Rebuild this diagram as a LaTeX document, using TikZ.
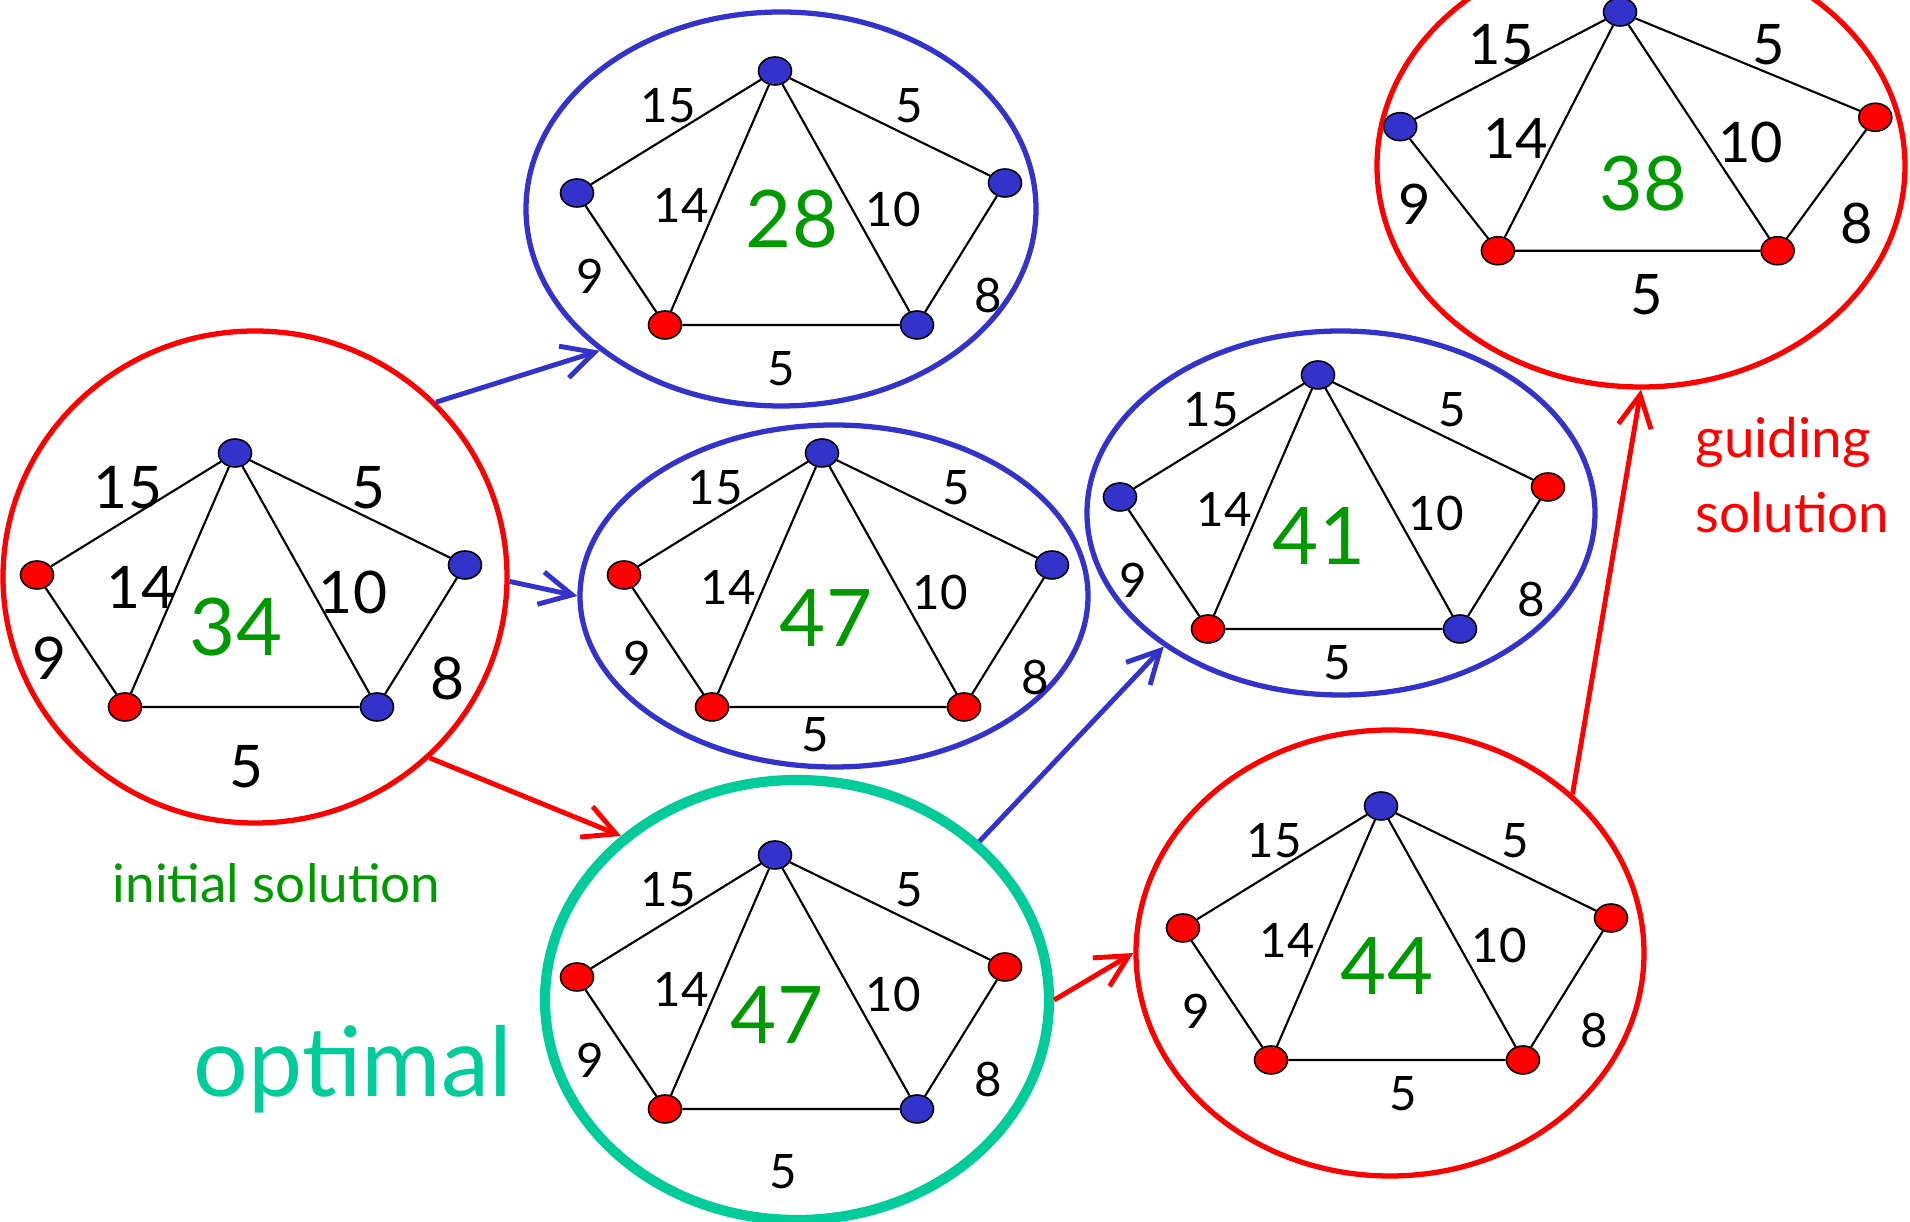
\documentclass[tikz,border=0pt]{standalone}
\usepackage{fontspec}
\setmainfont{Lato}
\usetikzlibrary{shapes.geometric,arrows.meta}
\definecolor{vred}{RGB}{255,0,0}
\definecolor{vblue}{RGB}{51,51,204}
\definecolor{vteal}{RGB}{0,204,153}
\definecolor{vgreen}{RGB}{0,153,0}
\newcommand{\solgraph}[9]{%
  \begin{scope}[#2]
    \node[vtx, fill=vblue] (#1t) at (0,0) {};
    \node[vtx, fill=#3] (#1l) at (-1.98,-1.22) {};
    \node[vtx, fill=#4] (#1r) at (2.30,-1.12) {};
    \node[vtx, fill=#5] (#1bl) at (-1.10,-2.54) {};
    \node[vtx, fill=#6] (#1br) at (1.42,-2.54) {};
    \draw[edge] (#1t) -- (#1l) (#1t) -- (#1r) (#1t) -- (#1bl) (#1t) -- (#1br)
      (#1l) -- (#1bl) (#1r) -- (#1br) (#1bl) -- (#1br);
    \node[lbl] (#1wa) at (-1.07,-0.35) {15};
    \node[lbl] (#1wb) at (1.34,-0.35) {5};
    \node[lbl] (#1wc) at (-0.94,-1.34) {14};
    \node[lbl] (#1wd) at (1.18,-1.39) {10};
    \node[lbl] (#1we) at (-1.85,-2.05) {9};
    \node[lbl] (#1wf) at (2.13,-2.25) {8};
    \node[lbl] (#1wg) at (#9) {5};
    \node[val] (#1v) at (#8) {#7};
  \end{scope}}

\begin{document}
\begin{tikzpicture}[>={Straight Barb[length=3.2mm,width=3.3mm]},
    vtx/.style={ellipse, draw, line width=0.45pt, minimum width=0.33cm, minimum height=0.28cm, inner sep=0pt},
    edge/.style={line width=0.6pt},
    lbl/.style={font=\fontsize{13.5}{13.5}\selectfont, inner sep=0pt},
    val/.style={text=vgreen, font=\fontsize{22.6}{22.6}\selectfont, inner sep=0pt},
    sol/.style={ellipse, line width=1.5pt, inner sep=0pt},
    redarrow/.style={->, vred, line width=1.4pt},
    bluearrow/.style={->, vblue, line width=1.4pt}]
  \useasboundingbox (0,0) rectangle (19.1,-12.22);

  \node[sol, draw=vred, minimum width=5.04cm, minimum height=4.92cm] (A) at (2.55,-5.77) {};
  \node[sol, draw=vblue, minimum width=5.10cm, minimum height=3.94cm] (B) at (7.81,-2.09) {};
  \node[sol, draw=vblue, minimum width=5.08cm, minimum height=3.42cm] (C) at (8.34,-5.96) {};
  \node[sol, draw=vteal, line width=2.9pt, minimum width=5.04cm, minimum height=4.40cm] (D) at (7.97,-10.00) {};
  \node[sol, draw=vblue, minimum width=5.08cm, minimum height=3.64cm] (E) at (13.41,-5.13) {};
  \node[sol, draw=vred, minimum width=5.08cm, minimum height=4.46cm] (F) at (13.90,-9.53) {};
  \node[sol, draw=vred, minimum width=5.28cm, minimum height=4.42cm] (G) at (16.41,-1.66) {};

  \solgraph{a}{shift={(2.35,-4.53)}, lbl/.append style={font=\fontsize{16.7}{16.7}\selectfont}}{vred}{vblue}{vred}{vblue}{34}{0.01,-1.74}{0.12,-3.14}
  \solgraph{b}{shift={(7.75,-0.71)}}{vblue}{vblue}{vred}{vblue}{28}{0.17,-1.48}{0.06,-2.98}
  \solgraph{c}{shift={(8.22,-4.53)}}{vred}{vblue}{vred}{vred}{47}{0.04,-1.65}{-0.07,-2.82}
  \solgraph{d}{shift={(7.75,-8.55)}}{vred}{vred}{vred}{vblue}{47}{0.02,-1.60}{0.08,-3.17}
  \solgraph{e}{shift={(13.18,-3.75)}}{vblue}{vred}{vred}{vblue}{41}{0.01,-1.61}{0.19,-2.88}
  \solgraph{f}{shift={(13.81,-8.06)}}{vred}{vred}{vred}{vred}{44}{0.06,-1.60}{0.22,-2.88}
  \solgraph{g}{shift={(16.20,-0.12)}, xscale=1.11, yscale=0.94, lbl/.append style={font=\fontsize{15.9}{15.9}\selectfont}, val/.append style={font=\fontsize{21.4}{21.4}\selectfont}}{vblue}{vred}{vred}{vred}{38}{0.21,-1.82}{0.24,-3.01}

  \draw[bluearrow] (A.44.8) -- (B.218.6);
  \draw[bluearrow] (A.359.3) -- (C.180.4);
  \draw[redarrow] (A.314.8) -- (D.137.7);
  \draw[bluearrow] (D.41.5) -- (E.217);
  \draw[redarrow] (D.0) -- (F.180);
  \draw[redarrow] (F.41.7) -- (G.270);

  \node[anchor=base west, inner sep=0pt, text=vgreen, font=\fontsize{15.1}{15.1}\selectfont] (init) at (1.12,-9.03) {initial solution};
  \node[anchor=base west, inner sep=0pt, text=vteal, font=\fontsize{27.5}{27.5}\selectfont] (opt) at (1.93,-10.97) {optimal};
  \node[anchor=base west, inner sep=0pt, align=left, text=vred, font=\fontsize{15.6}{21.6}\selectfont] (guide) at (16.95,-5.33) {guiding\\solution};
\end{tikzpicture}
\end{document}
